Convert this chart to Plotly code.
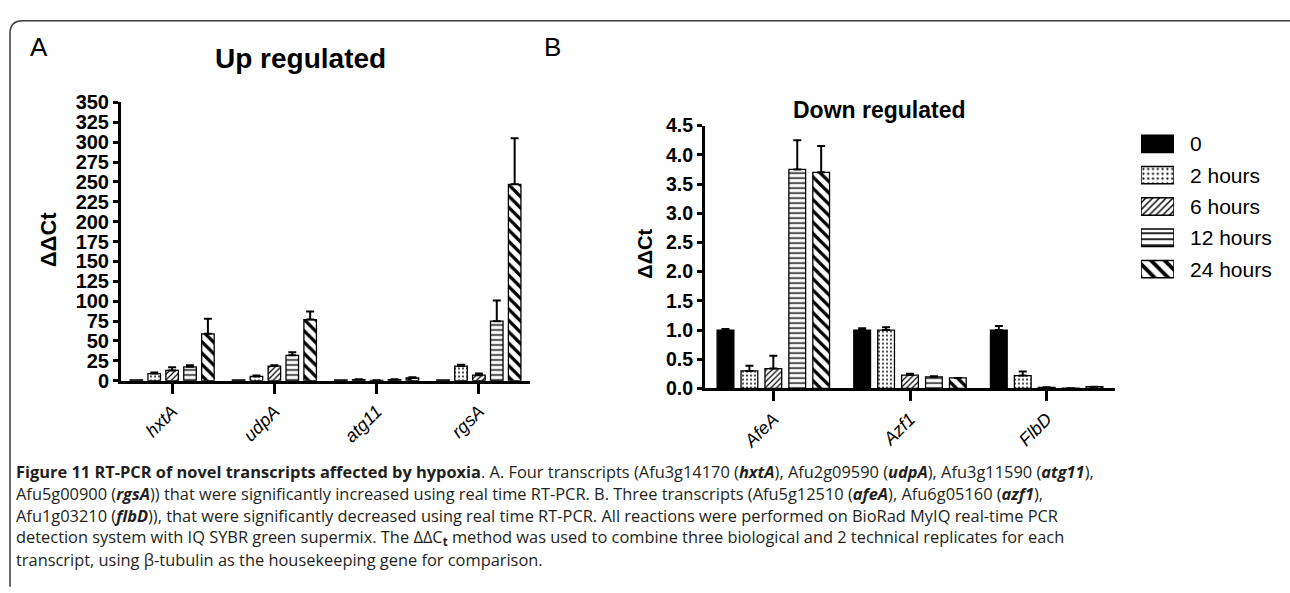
import plotly.graph_objects as go

W, H = 1290, 593

# ---- data: up-regulated transcripts (panel A) ----
up_genes = ["hxtA", "udpA", "atg11", "rgsA"]
up_0h = [1, 1, 1, 1]
up_2h = [9, 5.5, 1.5, 18.5]
up_6h = [13, 18.5, 0.5, 7]
up_12h = [17.5, 32, 1.5, 75]
up_24h = [59, 77, 3.5, 247]
up_0h_err = [0, 0, 0, 0]
up_2h_err = [1.5, 1, 0.5, 1.5]
up_6h_err = [4, 1, 0, 2]
up_12h_err = [2, 4, 0.5, 26]
up_24h_err = [19, 10, 1, 58]

# ---- data: down-regulated transcripts (panel B) ----
down_genes = ["AfeA", "Azf1", "FlbD"]
down_0h = [1.0, 1.0, 1.0]
down_2h = [0.30, 1.0, 0.22]
down_6h = [0.34, 0.23, 0.02]
down_12h = [3.75, 0.20, 0.005]
down_24h = [3.70, 0.18, 0.03]
down_0h_err = [0.02, 0.03, 0.07]
down_2h_err = [0.09, 0.05, 0.07]
down_6h_err = [0.22, 0.02, 0.0]
down_12h_err = [0.5, 0.01, 0.0]
down_24h_err = [0.45, 0.0, 0.0]

time_labels = ["0", "2 hours", "6 hours", "12 hours", "24 hours"]


def px(x):
    return x / W


def py(y):
    return 1 - y / H


FONT = "Liberation Sans, Arial, sans-serif"


def pattern_for(i, scale=1.0):
    if i == 0:
        return dict(color="black", pattern=dict(shape=""))
    shapes = [None,
              dict(shape=".", size=4, solidity=0.16),
              dict(shape="/", size=4, solidity=0.3),
              dict(shape="-", size=5, solidity=0.28),
              dict(shape="\\", size=8, solidity=0.4)]
    p = dict(shapes[i])
    p["size"] = p["size"] * scale
    p.update(fgcolor="black", bgcolor="white", fillmode="replace")
    return dict(color="white", pattern=p)


fig = go.Figure()

up_series = [up_0h, up_2h, up_6h, up_12h, up_24h]
up_errs = [up_0h_err, up_2h_err, up_6h_err, up_12h_err, up_24h_err]
down_series = [down_0h, down_2h, down_6h, down_12h, down_24h]
down_errs = [down_0h_err, down_2h_err, down_6h_err, down_12h_err, down_24h_err]

for i, name in enumerate(time_labels):
    m = pattern_for(i)
    m["line"] = dict(color="black", width=1.3)
    fig.add_trace(go.Bar(
        x=up_genes, y=up_series[i], name=name, marker=m, showlegend=False,
        error_y=dict(type="data", symmetric=False, array=up_errs[i],
                     arrayminus=[0] * len(up_genes), color="black",
                     thickness=2, width=4, visible=(i > 0)),
        xaxis="x", yaxis="y"))

for i, name in enumerate(time_labels):
    m = pattern_for(i)
    m["line"] = dict(color="black", width=1.3)
    fig.add_trace(go.Bar(
        x=down_genes, y=down_series[i], name=name, marker=m, showlegend=False,
        error_y=dict(type="data", symmetric=False, array=down_errs[i],
                     arrayminus=[0] * len(down_genes), color="black",
                     thickness=2, width=4),
        xaxis="x2", yaxis="y2"))

# legend swatches: one horizontal bar per time point in a small hidden axis
sw_w = 18 / 32.5
for i, name in enumerate(time_labels):
    m = pattern_for(i, scale=1.2)
    m["line"] = dict(color="black", width=1.5)
    fig.add_trace(go.Bar(
        y=[i], x=[1], base=[0], orientation="h", width=[sw_w],
        offset=[-sw_w / 2], marker=m, showlegend=False, hoverinfo="skip",
        xaxis="x3", yaxis="y3"))

axis_common = dict(showline=True, linewidth=3, linecolor="black",
                   ticks="outside", tickwidth=3, tickcolor="black",
                   showgrid=False, zeroline=False)

fig.update_layout(
    width=W, height=H,
    margin=dict(l=0, r=0, t=0, b=0),
    paper_bgcolor="white", plot_bgcolor="white",
    barmode="group", bargap=0.125, bargroupgap=0.3,
    font=dict(family=FONT, color="black"),
    xaxis=dict(domain=[px(121), px(530)], anchor="y", type="category",
               range=[-0.5, 3.5], ticklen=10, tickangle=-45,
               tickfont=dict(size=18, style="italic", family=FONT),
               **axis_common),
    yaxis=dict(domain=[py(384), py(95)], anchor="x", range=[0, 350],
               dtick=25, ticklen=5,
               tickfont=dict(size=20, weight="bold", family=FONT),
               **axis_common),
    xaxis2=dict(domain=[px(705), px(1115)], anchor="y2", type="category",
                range=[-0.5, 2.5], ticklen=10, tickangle=-45,
                tickfont=dict(size=18, style="italic", family=FONT),
                **axis_common),
    yaxis2=dict(domain=[py(392), py(119)], anchor="x2", range=[0, 4.5],
                dtick=0.5, tickformat=".1f", ticklen=5,
                tickfont=dict(size=19.5, weight="bold", family=FONT),
                **axis_common),
    xaxis3=dict(domain=[px(1141), px(1174)], anchor="y3", range=[0, 1],
                visible=False, fixedrange=True),
    yaxis3=dict(domain=[py(138 + 4 * 32.5 + 16.25), py(138 - 16.25)],
                anchor="x3", range=[4.5, -0.5], visible=False,
                fixedrange=True),
)

ann = []
# panel letters and titles
ann.append(dict(x=px(39), y=py(37), text="A", font=dict(size=26, family=FONT)))
ann.append(dict(x=px(552), y=py(37), text="B", font=dict(size=26, family=FONT)))
ann.append(dict(x=px(300), y=py(49), text="<b>Up regulated</b>",
                font=dict(size=28, family=FONT)))
ann.append(dict(x=px(879), y=py(103), text="<b>Down regulated</b>",
                font=dict(size=23, family=FONT)))
# y-axis titles
ann.append(dict(x=px(48), y=py(237), text="<b>ΔΔCt</b>", textangle=-90,
                font=dict(size=22, family=FONT)))
ann.append(dict(x=px(645), y=py(252), text="<b>ΔΔCt</b>", textangle=-90,
                font=dict(size=20, family=FONT)))
# legend labels
for i, name in enumerate(time_labels):
    ann.append(dict(x=px(1188), y=py(138 + i * 32.5), text=name,
                    xanchor="left", font=dict(size=21, family=FONT)))

# figure caption
caption = [
    "<b>Figure 11 RT-PCR of novel transcripts affected by hypoxia</b>. A. Four transcripts "
    "(Afu3g14170 (<b><i>hxtA</i></b>), Afu2g09590 (<b><i>udpA</i></b>), Afu3g11590 (<b><i>atg11</i></b>),",
    "Afu5g00900 (<b><i>rgsA</i></b>)) that were significantly increased using real time RT-PCR. "
    "B. Three transcripts (Afu5g12510 (<b><i>afeA</i></b>), Afu6g05160 (<b><i>azf1</i></b>),",
    "Afu1g03210 (<b><i>flbD</i></b>)), that were significantly decreased using real time RT-PCR. "
    "All reactions were performed on BioRad MyIQ real-time PCR",
    "detection system with IQ SYBR green supermix. The ΔΔC<sub><b>t</b></sub> method was used "
    "to combine three biological and 2 technical replicates for each",
    "transcript, using β-tubulin as the housekeeping gene for comparison.",
]
for k, line in enumerate(caption):
    ann.append(dict(x=px(14), y=py(478 + k * 22.8), text=line, xanchor="left",
                    font=dict(size=16.4, family="Open Sans, sans-serif",
                              color="#231f20")))

for a in ann:
    a.setdefault("xref", "paper")
    a.setdefault("yref", "paper")
    a.setdefault("showarrow", False)
    a.setdefault("xanchor", "center")
    a.setdefault("yanchor", "middle")
fig.update_layout(annotations=ann)

# rounded frame around the figure
r = 13
path = (f"M {px(10)},{py(H + 5)} L {px(10)},{py(10 + r)} "
        f"Q {px(10)},{py(10)} {px(10 + r)},{py(10)} L {px(W + 5)},{py(10)}")
fig.add_shape(type="path", path=path, xref="paper", yref="paper",
              line=dict(color="#3a3a3a", width=1.5))

fig.write_html("out.html")
